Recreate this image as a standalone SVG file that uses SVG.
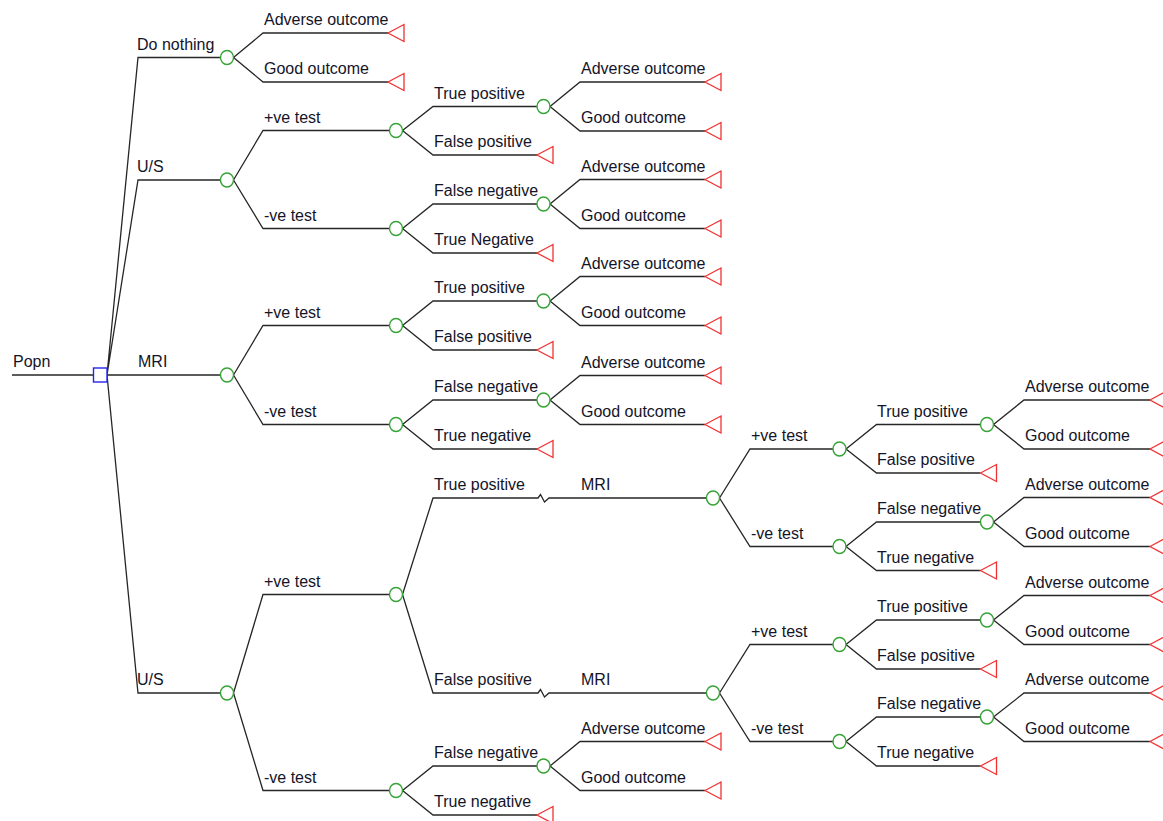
<svg xmlns="http://www.w3.org/2000/svg" xmlns:xlink="http://www.w3.org/1999/xlink" width="1163" height="821" viewBox="0 0 1163 821">
<style>
.l{fill:none;stroke:#262626;stroke-width:1.3}
.c{fill:#fff;stroke:#36a336;stroke-width:1.4}
.t{fill:#fff;stroke:#f23232;stroke-width:1.3}
.d{fill:#fff;stroke:#2424e8;stroke-width:1.4}
text{font-family:"Liberation Sans",Arial,sans-serif;font-size:16px;fill:#141428}
</style>
<defs>
<ellipse id="ch" cx="0" cy="0" rx="6.5" ry="7" class="c"/>
<path id="tri" d="M0,0 L16,-8.5 L16,8.5 Z" class="t"/>
</defs>
<rect width="1163" height="821" fill="#fff"/>
<g id="connectors" class="l">
<path d="M12,375 H93"/>
<path d="M107,375 L138,57.5 H220.5 M107,375 L138,180 H220.5 M107,375 H220.5 M107,375 L138,693 H220.5"/>
<path d="M233.5,57.5 L263,33 H388 M233.5,57.5 L263,82 H388"/>
<path d="M233.5,180 L263,130.5 H389.5 M233.5,180 L263,228.5 H389.5"/>
<path d="M402.5,130.5 L433,106.5 H537 M402.5,130.5 L433,155 H537"/>
<path d="M550,106.5 L580,82 H705 M550,106.5 L580,131 H705"/>
<path d="M402.5,228.5 L433,204 H537 M402.5,228.5 L433,253 H537"/>
<path d="M550,204 L580,179.5 H705 M550,204 L580,228.5 H705"/>
<path d="M233.5,375 L263,325.5 H389.5 M233.5,375 L263,424.5 H389.5"/>
<path d="M402.5,325.5 L433,301 H537 M402.5,325.5 L433,350 H537"/>
<path d="M550,301 L580,276.5 H705 M550,301 L580,325.5 H705"/>
<path d="M402.5,424.5 L433,400 H537 M402.5,424.5 L433,449 H537"/>
<path d="M550,400 L580,375.5 H705 M550,400 L580,424.5 H705"/>
<path d="M233.5,693 L263,594.5 H389.5 M233.5,693 L263,790.5 H389.5"/>
<path d="M402.5,594.5 L433,498 H538 L540.5,494.5 L544.5,502 L549,498 H706.5 M402.5,594.5 L433,693 H538 L540.5,689.5 L544.5,697 L549,693 H706.5"/>
<path d="M719.5,498 L750,449 H833 M719.5,498 L750,546.5 H833"/>
<path d="M846,449 L876.5,424.5 H980.5 M846,449 L876.5,473 H980.5"/>
<path d="M993.5,424.5 L1024,400 H1150 M993.5,424.5 L1024,449 H1150"/>
<path d="M846,546.5 L876.5,522 H980.5 M846,546.5 L876.5,570.5 H980.5"/>
<path d="M993.5,522 L1024,497.5 H1150 M993.5,522 L1024,546.5 H1150"/>
<path d="M719.5,693 L750,644.5 H833 M719.5,693 L750,741.5 H833"/>
<path d="M846,644.5 L876.5,620 H980.5 M846,644.5 L876.5,669 H980.5"/>
<path d="M993.5,620 L1024,595.5 H1150 M993.5,620 L1024,644.5 H1150"/>
<path d="M846,741.5 L876.5,717 H980.5 M846,741.5 L876.5,766 H980.5"/>
<path d="M993.5,717 L1024,693 H1150 M993.5,717 L1024,741.5 H1150"/>
<path d="M402.5,790.5 L433,766 H537 M402.5,790.5 L433,815 H537"/>
<path d="M550,766 L580,741.5 H705 M550,766 L580,790.5 H705"/>
</g>
<g id="decision"><rect x="93.5" y="368" width="13.5" height="14" class="d"/></g>
<g id="chance-nodes">
<g id="c1"><use xlink:href="#ch" href="#ch" x="227" y="57.5"/></g>
<g id="c2"><use xlink:href="#ch" href="#ch" x="227" y="180"/></g>
<g id="c2a"><use xlink:href="#ch" href="#ch" x="396" y="130.5"/></g>
<g id="c2a1"><use xlink:href="#ch" href="#ch" x="543.5" y="106.5"/></g>
<g id="c2b"><use xlink:href="#ch" href="#ch" x="396" y="228.5"/></g>
<g id="c2b1"><use xlink:href="#ch" href="#ch" x="543.5" y="204"/></g>
<g id="c3"><use xlink:href="#ch" href="#ch" x="227" y="375"/></g>
<g id="c3a"><use xlink:href="#ch" href="#ch" x="396" y="325.5"/></g>
<g id="c3a1"><use xlink:href="#ch" href="#ch" x="543.5" y="301"/></g>
<g id="c3b"><use xlink:href="#ch" href="#ch" x="396" y="424.5"/></g>
<g id="c3b1"><use xlink:href="#ch" href="#ch" x="543.5" y="400"/></g>
<g id="c4"><use xlink:href="#ch" href="#ch" x="227" y="693"/></g>
<g id="c4a"><use xlink:href="#ch" href="#ch" x="396" y="594.5"/></g>
<g id="c5"><use xlink:href="#ch" href="#ch" x="713" y="498"/></g>
<g id="c5a"><use xlink:href="#ch" href="#ch" x="839.5" y="449"/></g>
<g id="c5a1"><use xlink:href="#ch" href="#ch" x="987" y="424.5"/></g>
<g id="c5b"><use xlink:href="#ch" href="#ch" x="839.5" y="546.5"/></g>
<g id="c5b1"><use xlink:href="#ch" href="#ch" x="987" y="522"/></g>
<g id="c6"><use xlink:href="#ch" href="#ch" x="713" y="693"/></g>
<g id="c6a"><use xlink:href="#ch" href="#ch" x="839.5" y="644.5"/></g>
<g id="c6a1"><use xlink:href="#ch" href="#ch" x="987" y="620"/></g>
<g id="c6b"><use xlink:href="#ch" href="#ch" x="839.5" y="741.5"/></g>
<g id="c6b1"><use xlink:href="#ch" href="#ch" x="987" y="717"/></g>
<g id="c4b"><use xlink:href="#ch" href="#ch" x="396" y="790.5"/></g>
<g id="c4b1"><use xlink:href="#ch" href="#ch" x="543.5" y="766"/></g>
</g>
<g id="terminals">
<g id="t1"><use xlink:href="#tri" href="#tri" x="388" y="33"/></g>
<g id="t2"><use xlink:href="#tri" href="#tri" x="388" y="82"/></g>
<g id="t3"><use xlink:href="#tri" href="#tri" x="705" y="82"/></g>
<g id="t4"><use xlink:href="#tri" href="#tri" x="705" y="131"/></g>
<g id="t5"><use xlink:href="#tri" href="#tri" x="537" y="155"/></g>
<g id="t6"><use xlink:href="#tri" href="#tri" x="705" y="179.5"/></g>
<g id="t7"><use xlink:href="#tri" href="#tri" x="705" y="228.5"/></g>
<g id="t8"><use xlink:href="#tri" href="#tri" x="537" y="253"/></g>
<g id="t9"><use xlink:href="#tri" href="#tri" x="705" y="276.5"/></g>
<g id="t10"><use xlink:href="#tri" href="#tri" x="705" y="325.5"/></g>
<g id="t11"><use xlink:href="#tri" href="#tri" x="537" y="350"/></g>
<g id="t12"><use xlink:href="#tri" href="#tri" x="705" y="375.5"/></g>
<g id="t13"><use xlink:href="#tri" href="#tri" x="705" y="424.5"/></g>
<g id="t14"><use xlink:href="#tri" href="#tri" x="537" y="449"/></g>
<g id="t15"><use xlink:href="#tri" href="#tri" x="1150" y="400"/></g>
<g id="t16"><use xlink:href="#tri" href="#tri" x="1150" y="449"/></g>
<g id="t17"><use xlink:href="#tri" href="#tri" x="980.5" y="473"/></g>
<g id="t18"><use xlink:href="#tri" href="#tri" x="1150" y="497.5"/></g>
<g id="t19"><use xlink:href="#tri" href="#tri" x="1150" y="546.5"/></g>
<g id="t20"><use xlink:href="#tri" href="#tri" x="980.5" y="570.5"/></g>
<g id="t21"><use xlink:href="#tri" href="#tri" x="1150" y="595.5"/></g>
<g id="t22"><use xlink:href="#tri" href="#tri" x="1150" y="644.5"/></g>
<g id="t23"><use xlink:href="#tri" href="#tri" x="980.5" y="669"/></g>
<g id="t24"><use xlink:href="#tri" href="#tri" x="1150" y="693"/></g>
<g id="t25"><use xlink:href="#tri" href="#tri" x="1150" y="741.5"/></g>
<g id="t26"><use xlink:href="#tri" href="#tri" x="980.5" y="766"/></g>
<g id="t27"><use xlink:href="#tri" href="#tri" x="705" y="741.5"/></g>
<g id="t28"><use xlink:href="#tri" href="#tri" x="705" y="790.5"/></g>
<g id="t29"><use xlink:href="#tri" href="#tri" x="537" y="815"/></g>
</g>
<g id="labels">
<text x="13" y="367">Popn</text>
<text x="137" y="49.5">Do nothing</text>
<text x="137" y="172">U/S</text>
<text x="138" y="367">MRI</text>
<text x="137" y="685">U/S</text>
<text x="264" y="25">Adverse outcome</text>
<text x="264" y="74">Good outcome</text>
<text x="264" y="122.5">+ve test</text>
<text x="264" y="220.5">-ve test</text>
<text x="434" y="98.5">True positive</text>
<text x="434" y="147">False positive</text>
<text x="581" y="74">Adverse outcome</text>
<text x="581" y="123">Good outcome</text>
<text x="434" y="196">False negative</text>
<text x="434" y="245">True Negative</text>
<text x="581" y="171.5">Adverse outcome</text>
<text x="581" y="220.5">Good outcome</text>
<text x="264" y="317.5">+ve test</text>
<text x="264" y="416.5">-ve test</text>
<text x="434" y="293">True positive</text>
<text x="434" y="342">False positive</text>
<text x="581" y="268.5">Adverse outcome</text>
<text x="581" y="317.5">Good outcome</text>
<text x="434" y="392">False negative</text>
<text x="434" y="441">True negative</text>
<text x="581" y="367.5">Adverse outcome</text>
<text x="581" y="416.5">Good outcome</text>
<text x="264" y="586.5">+ve test</text>
<text x="264" y="782.5">-ve test</text>
<text x="434" y="490">True positive</text>
<text x="581" y="490">MRI</text>
<text x="434" y="685">False positive</text>
<text x="581" y="685">MRI</text>
<text x="751" y="441">+ve test</text>
<text x="751" y="538.5">-ve test</text>
<text x="877" y="416.5">True positive</text>
<text x="877" y="465">False positive</text>
<text x="1025" y="392">Adverse outcome</text>
<text x="1025" y="441">Good outcome</text>
<text x="877" y="514">False negative</text>
<text x="877" y="562.5">True negative</text>
<text x="1025" y="489.5">Adverse outcome</text>
<text x="1025" y="538.5">Good outcome</text>
<text x="751" y="636.5">+ve test</text>
<text x="751" y="733.5">-ve test</text>
<text x="877" y="612">True positive</text>
<text x="877" y="661">False positive</text>
<text x="1025" y="587.5">Adverse outcome</text>
<text x="1025" y="636.5">Good outcome</text>
<text x="877" y="709">False negative</text>
<text x="877" y="758">True negative</text>
<text x="1025" y="685">Adverse outcome</text>
<text x="1025" y="733.5">Good outcome</text>
<text x="434" y="758">False negative</text>
<text x="434" y="807">True negative</text>
<text x="581" y="733.5">Adverse outcome</text>
<text x="581" y="782.5">Good outcome</text>
</g>
</svg>
